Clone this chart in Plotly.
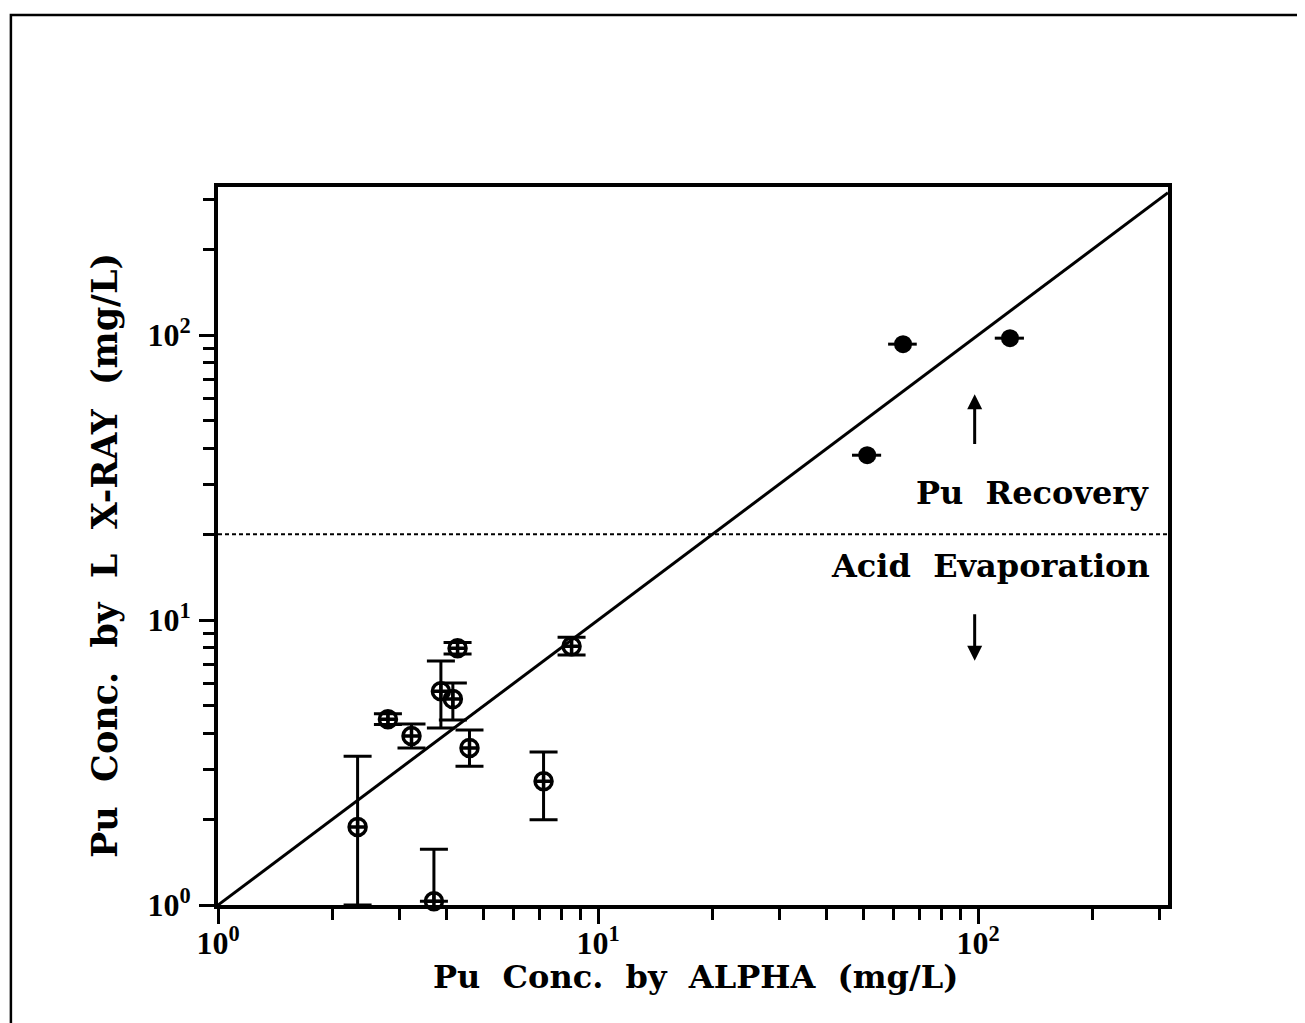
import plotly.graph_objects as go
import numpy as np

# ---- data ----
alpha = [2.33, 3.70, 2.80, 3.23, 3.86, 4.15, 4.27, 4.59, 7.19, 8.52]
xray = [1.88, 1.03, 4.49, 3.92, 5.63, 5.28, 7.97, 3.56, 2.72, 8.10]
xray_hi = [3.33, 1.57, 4.69, 4.32, 7.18, 6.01, 8.35, 4.11, 3.44, 8.71]
xray_lo = [1.00, 1.03, 4.30, 3.56, 4.18, 4.46, 7.60, 3.07, 1.99, 7.54]

alpha_hi_pts = [63.5, 121.4, 51.1]
xray_hi_pts = [93.0, 97.6, 37.9]
alpha_hi_err = [5.5, 10.7, 4.5]

diag = [1.0, 10 ** 2.5]
boundary = 20.0
xrange_log = [0, 2.5]
yrange_log = [0, 2.52]

tick_vals = [1, 10, 100]
tick_text = ["10<sup>0</sup>", "10<sup>1</sup>", "10<sup>2</sup>"]
minor_vals = [2, 3, 4, 5, 6, 7, 8, 9, 20, 30, 40, 50, 60, 70, 80, 90, 200, 300]

FONT = "DejaVu Serif"
TICKFONT = "Liberation Serif"
SP = "\u00a0\u00a0"

fig = go.Figure()

# y = x line
fig.add_trace(go.Scatter(x=diag, y=diag, mode="lines",
                         line=dict(color="black", width=3), showlegend=False))
# dashed boundary
fig.add_trace(go.Scatter(x=diag, y=[boundary, boundary], mode="lines",
                         line=dict(color="black", width=2, dash="4px,3px"), showlegend=False))

# low-concentration points with error bars
err_plus = [h - v for h, v in zip(xray_hi, xray)]
err_minus = [v - l for v, l in zip(xray, xray_lo)]
fig.add_trace(go.Scatter(
    x=alpha, y=xray, mode="markers",
    marker=dict(symbol="circle-cross-open", size=17, color="black",
                line=dict(color="black", width=3.5)),
    error_y=dict(type="data", symmetric=False, array=err_plus, arrayminus=err_minus,
                 color="black", thickness=3, width=14),
    cliponaxis=False, showlegend=False))

# high-concentration points
fig.add_trace(go.Scatter(
    x=alpha_hi_pts, y=xray_hi_pts, mode="markers",
    marker=dict(symbol="circle", size=18, color="black"),
    error_x=dict(type="data", array=alpha_hi_err, color="black", thickness=3, width=0),
    showlegend=False))

xtitle = "<b>" + SP.join(["Pu", "Conc.", "by", "ALPHA", "(mg/L)"]) + "</b>"
ytitle = "<b>" + SP.join(["Pu", "Conc.", "by", "L", "X-RAY", "(mg/L)"]) + "</b>"

arrow_x = np.log10(98)
annotations = [
    dict(x=arrow_x, y=np.log10(62), ax=arrow_x, ay=np.log10(41), xref="x", yref="y",
         axref="x", ayref="y", text="", showarrow=True, arrowhead=2, arrowsize=1,
         arrowwidth=3, arrowcolor="black"),
    dict(x=arrow_x, y=np.log10(7.2), ax=arrow_x, ay=np.log10(10.6), xref="x", yref="y",
         axref="x", ayref="y", text="", showarrow=True, arrowhead=2, arrowsize=1,
         arrowwidth=3, arrowcolor="black"),
    dict(x=2.455, y=np.log10(27.9), xref="x", yref="y", text="<b>Pu" + SP + "Recovery</b>",
         showarrow=False, xanchor="right", yanchor="middle",
         font=dict(family=FONT, size=32, color="black")),
    dict(x=2.457, y=np.log10(15.5), xref="x", yref="y", text="<b>Acid" + SP + "Evaporation</b>",
         showarrow=False, xanchor="right", yanchor="middle",
         font=dict(family=FONT, size=32, color="black")),
    dict(x=0.503, y=-0.100, xref="paper", yref="paper", text=xtitle, showarrow=False,
         xanchor="center", yanchor="middle", font=dict(family=FONT, size=32, color="black")),
    dict(x=-0.12, y=0.486, xref="paper", yref="paper", text=ytitle, showarrow=False,
         textangle=-90, xanchor="center", yanchor="middle",
         font=dict(family=FONT, size=35, color="black")),
]

axis_common = dict(
    type="log", showgrid=False, zeroline=False, showline=True, linecolor="black",
    linewidth=4, mirror=True, ticks="outside", ticklen=15, tickwidth=3, tickcolor="black",
    tickvals=tick_vals, ticktext=tick_text,
    tickfont=dict(family=TICKFONT, size=32, color="black", weight="bold"),
    minor=dict(tickvals=minor_vals, ticks="outside", ticklen=11, tickwidth=3,
               tickcolor="black", showgrid=False),
)

fig.update_layout(
    width=1305, height=1023,
    margin=dict(l=210, r=145, t=179, b=126),
    paper_bgcolor="white", plot_bgcolor="white",
    xaxis=dict(range=xrange_log, ticklabelstandoff=-8, **axis_common),
    yaxis=dict(range=yrange_log, ticklabelstandoff=2, **axis_common),
    annotations=annotations,
    shapes=[dict(type="rect", xref="paper", yref="paper", x0=-0.218, x1=1.3,
                 y0=-0.3, y1=1.2396, line=dict(color="black", width=2.5),
                 fillcolor="rgba(0,0,0,0)", layer="below")],
)

fig.write_html("out.html")
